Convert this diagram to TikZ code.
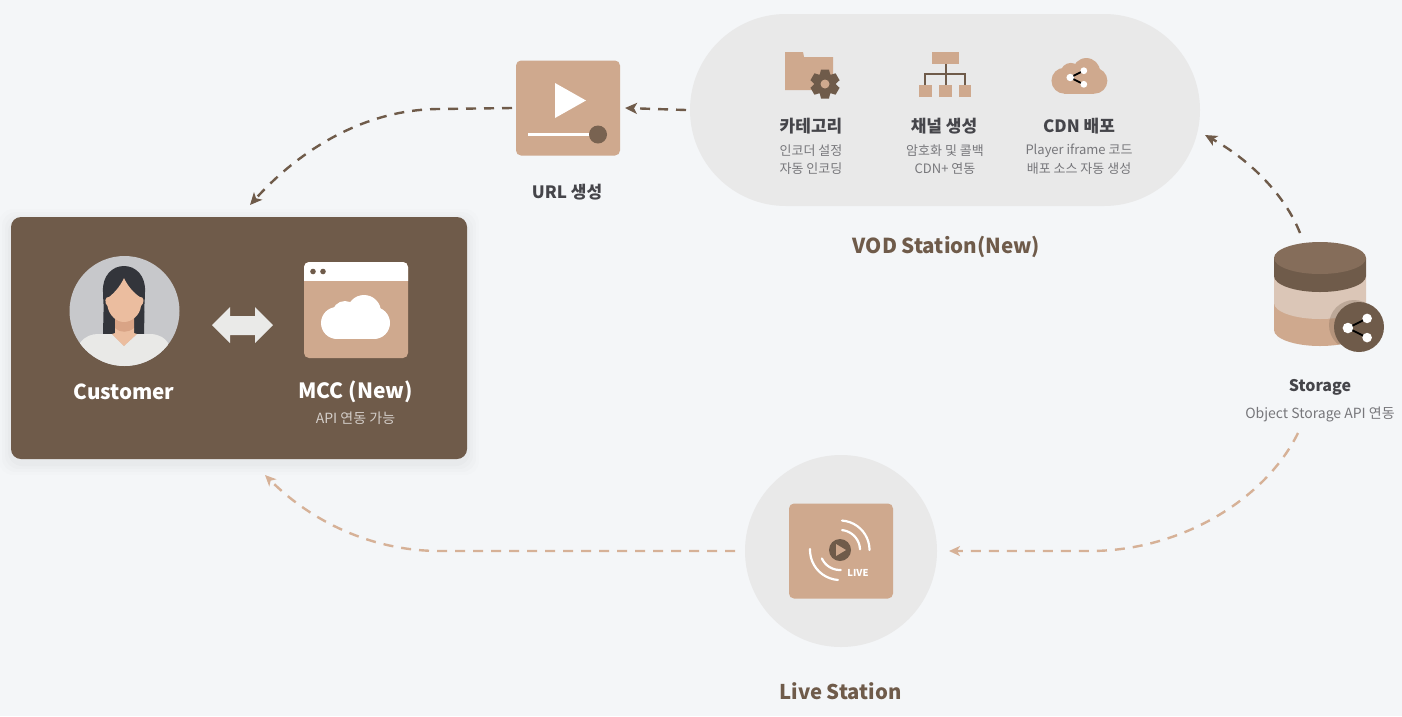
\documentclass[tikz,border=0pt]{standalone}
\usepackage{fontspec}
\setmainfont{Noto Sans CJK KR}
\usetikzlibrary{arrows.meta,calc}
\definecolor{bgc}{HTML}{F4F6F8}
\definecolor{pillc}{HTML}{E9E9E9}
\definecolor{tanc}{HTML}{CFA98E}
\definecolor{brownc}{HTML}{6F5B4A}
\definecolor{linetan}{HTML}{D6B197}
\definecolor{darktxt}{HTML}{45454A}
\definecolor{subtxt}{HTML}{77777B}
\definecolor{hairc}{HTML}{33353B}
\definecolor{skinc}{HTML}{EBBD9F}
\definecolor{skind}{HTML}{D9A486}
\definecolor{shirtc}{HTML}{E9E9E7}
\definecolor{avatarc}{HTML}{C7C8CB}
\newcommand{\fsz}[1]{\fontsize{#1}{#1}\selectfont}
\tikzset{
  x=1pt,y=-1pt,
  tanbox/.style={fill=tanc,rounded corners=5pt,inner sep=0pt,outer sep=0pt},
  brownline/.style={draw=brownc,line width=2.4pt,dash pattern=on 10pt off 8pt,-{Stealth[length=12pt,width=11pt,inset=3pt,sep=0pt]}},
  tanline/.style={draw=linetan,line width=2.4pt,dash pattern=on 10pt off 8pt,-{Stealth[length=11pt,width=10pt,inset=3pt]}},
  headtxt/.style={inner sep=0pt,font=\bfseries\fsz{20.6},text=brownc,anchor=center},
  itemtxt/.style={inner sep=0pt,font=\bfseries\fsz{17},text=darktxt,anchor=center},
  subline/.style={inner sep=0pt,font=\fsz{13},text=subtxt,anchor=center},
  whitetxt/.style={inner sep=0pt,font=\bfseries\fsz{20.6},text=white,anchor=center},
  wavearc/.style={white,line width=2.2pt,line cap=round},
  cloudicon/.pic={
    \fill[pic actions] (-18,12) circle[radius=16];
    \fill[pic actions] (19,12) circle[radius=16];
    \fill[pic actions] (-10,3) circle[radius=13];
    \fill[pic actions] (9,1) circle[radius=17];
    \fill[pic actions] (-18,6) rectangle (19,28);
  },
  shareicon/.pic={
    \draw[pic actions,fill=none,line width=1.8pt] (8,-8) -- (-8,0) -- (8,8);
    \fill[pic actions] (8,-8) circle[radius=4];
    \fill[pic actions] (-8,0) circle[radius=4.4];
    \fill[pic actions] (8,8) circle[radius=4];
  },
}
\begin{document}
\begin{tikzpicture}
\useasboundingbox (0,0) rectangle (1402,716);
\fill[bgc] (0,0) rectangle (1402,716);

% soft shadow of the customer panel
\foreach \g/\o in {12/.008,9/.01,6/.012,3/.016}{
  \fill[black,opacity=\o,rounded corners=14pt] (11-\g,217-\g+4) rectangle (467+\g,459+\g+4);
}

% containers
\node[fill=pillc,rounded corners=96pt,minimum width=510pt,minimum height=192pt,inner sep=0pt,outer sep=0pt] (vod) at (945,110) {};
\node[fill=brownc,rounded corners=10pt,minimum width=456pt,minimum height=242pt,inner sep=0pt,outer sep=0pt] (panel) at (239,338) {};
\node[tanbox,minimum width=104pt,minimum height=95pt] (url) at (568,108) {};
\node[circle,fill=pillc,minimum size=192pt,inner sep=0pt,outer sep=0pt] (livec) at (841,551) {};
\node[tanbox,minimum width=104pt,minimum height=95pt] (livebox) at (841,551) {};
\node[inner sep=0pt,outer sep=0pt,minimum width=92pt,minimum height=104pt] (storage) at (1320,294) {};
\node[circle,fill=avatarc,minimum size=110pt,inner sep=0pt,outer sep=0pt] (avatar) at (124.5,311) {};
\node[tanbox,minimum width=104pt,minimum height=96pt] (window) at (356,310) {};

% url icon
\fill[white] (555,83) -- (586,100.5) -- (555,118) -- cycle;
\draw[white,line width=2.4pt] (528,134.5) -- (592,134.5);
\fill[brownc!90!tanc] (598,134.5) circle[radius=9];

% avatar
\begin{scope}
  \clip (124.5,311) circle[radius=55];
  \fill[hairc] (103,334) -- (103.5,312) .. controls (104,305) and (103,300) .. (103,292)
     .. controls (102,276) and (112,266) .. (124,266) .. controls (136,266) and (146,276) .. (145,292)
     .. controls (145,300) and (144,305) .. (144.5,312) -- (144,334) -- (135,334) -- (113,334) -- cycle;
  \fill[skinc] (115,312) rectangle (134,340);
  \fill[shirtc] (70,372) -- (80,343) .. controls (85,336) and (92,334) .. (98,334) -- (112,334) -- (124,346) -- (137,334) -- (152,334) .. controls (160,335) and (165,338) .. (168,343) -- (180,372) -- cycle;
  \fill[skinc] (115,328) -- (134,328) -- (134,333) -- (137,334) -- (124,346) -- (112,334) -- (115,333) -- cycle;
  \fill[skind] (115,318) -- (134,318) -- (134,328) .. controls (128,333) and (120,333) .. (115,328) -- cycle;
  \fill[skinc] (124,278) .. controls (120,287) and (113,294) .. (109,297) .. controls (105,296) and (104,303) .. (107.5,306)
     .. controls (109,315) and (116,322) .. (124,322) .. controls (132,322) and (140,315) .. (141,306)
     .. controls (145,303) and (144,296) .. (140,297) .. controls (135,294) and (128,287) .. (124,278) -- cycle;
\end{scope}

% double arrow
\fill[shirtc!95!bgc] (212,325) -- (230,307) -- (230,316) -- (255,316) -- (255,307) -- (273,325) -- (255,343) -- (255,335) -- (230,335) -- (230,343) -- cycle;

% window icon
\begin{scope}
  \clip (304,262) rectangle (408,280);
  \fill[white,rounded corners=5pt] (304,262) rectangle (408,290);
\end{scope}
\fill[brownc] (313,271.5) circle[radius=2.8];
\fill[brownc] (323,271.5) circle[radius=2.8];
\path (355,311) pic[fill=white] {cloudicon};

% folder + gear
\fill[tanc] (785,52) -- (803,52) -- (804,57) -- (833,57) -- (833,90) -- (785,90) -- cycle;
\foreach \a in {0,60,...,300}{
  \fill[brownc,rotate around={\a:(825,84)}] (821,69.5) -- (829,69.5) -- (831,78) -- (819,78) -- cycle;
}
\fill[brownc] (825,84) circle[radius=11];
\fill[tanc] (825,84) circle[radius=4.5];

% hierarchy icon
\draw[brownc,line width=2pt] (945.5,60) -- (945.5,88) (925,88) -- (925,73.5) -- (965,73.5) -- (965,88);
\fill[tanc] (932,52) rectangle (959,63.5);
\fill[tanc] (919,85) rectangle (931.5,97);
\fill[tanc] (939,85) rectangle (951.5,97);
\fill[tanc] (959,85) rectangle (970.5,97);

% cloud share icon
\path (1079,71) pic[fill=tanc,scale=.81] {cloudicon};
\path (1077,77.5) pic[fill=white,scale=.85] {shareicon};

% storage cylinder
\fill[tanc] (1274,303) -- (1274,330) arc[start angle=180,end angle=360,x radius=46,y radius=-16] -- (1366,303) -- cycle;
\fill[tanc!55!pillc] (1274,276) -- (1274,303) arc[start angle=180,end angle=360,x radius=46,y radius=-16] -- (1366,276) -- cycle;
\fill[brownc] (1274,258) -- (1274,276) arc[start angle=180,end angle=360,x radius=46,y radius=-16] -- (1366,258) -- cycle;
\fill[brownc!70!tanc!95!black] (1320,258) ellipse[x radius=46,y radius=16];
\begin{scope}
  \clip (1274,276) -- (1274,330) arc[start angle=180,end angle=360,x radius=46,y radius=-16] -- (1366,276) -- cycle;
  \fill[brownc,opacity=.28] (1354,325) circle[radius=25];
\end{scope}
\fill[brownc] (1359,327) circle[radius=25];
\path (1357.5,328) pic[fill=white,scale=1.2] {shareicon};

% live icon
\draw[wavearc] plot[smooth,samples=12,domain=0:86] ({840+29.5*cos(\x)},{550-29.5*sin(\x)});
\draw[wavearc] plot[smooth,samples=12,domain=2:84] ({840+20*cos(\x)},{550-20*sin(\x)});
\draw[wavearc] plot[smooth,samples=12,domain=178:266] ({840+30*cos(\x)},{550-30*sin(\x)});
\draw[wavearc] plot[smooth,samples=12,domain=205:272] ({840+20*cos(\x)},{550-20*sin(\x)});
\fill[brownc] (840,550) circle[radius=11];
\fill[tanc] (836,544) -- (846,550) -- (836,556) -- cycle;
\node[inner sep=0pt,font=\bfseries\fsz{9.5},text=white] (livelabel) at (858,573) {LIVE};

% texts
\node[whitetxt] (tcust) at (124,392) {Customer};
\node[whitetxt,font=\bfseries\fsz{21}] (tmcc) at (355.5,392) {MCC (New)};
\node[inner sep=0pt,font=\fsz{14},text=white!70!brownc] (tmccsub) at (355.5,418) {API 연동 가능};
\node[inner sep=0pt,font=\bfseries\fsz{17},text=darktxt] (turl) at (567,192) {URL 생성};
\node[itemtxt] (t1) at (811,126) {카테고리};
\node[subline] (t1a) at (811,151) {인코더 설정};
\node[subline] (t1b) at (811,169) {자동 인코딩};
\node[itemtxt] (t2) at (944,126) {채널 생성};
\node[subline] (t2a) at (945,151) {암호화 및 콜백};
\node[subline] (t2b) at (945,169) {CDN+ 연동};
\node[itemtxt] (t3) at (1079,126) {CDN 배포};
\node[subline] (t3a) at (1079,151) {Player iframe 코드};
\node[subline] (t3b) at (1079,169) {배포 소스 자동 생성};
\node[headtxt] (tvod) at (946.5,247) {VOD Station(New)};
\node[inner sep=0pt,font=\bfseries\fsz{16},text=darktxt] (tstor) at (1320,387) {Storage};
\node[inner sep=0pt,font=\fsz{14},text=subtxt] (tstorsub) at (1320,414) {Object Storage API 연동};
\node[headtxt,font=\bfseries\fsz{20.3}] (tlive) at (840.5,691.5) {Live Station};

% connectors
\draw[brownline] ([xshift=-4pt]vod.west) -- ([xshift=5pt]url.east);
\draw[brownline] ([xshift=-4pt]url.west) -- (440,109) .. controls (360,109) and (295,155) .. ([shift={(11,-12)}]panel.north);
\draw[brownline] ([shift={(-20,-9)}]storage.north) .. controls (1285,195) and (1250,160) .. ([shift={(5,25)}]vod.east);
\draw[tanline] ([shift={(-22,19)}]tstorsub.center) .. controls (1265,500) and (1180,551) .. (1090,551) -- ([xshift=12pt]livec.east);
\draw[tanline] ([xshift=-10pt]livec.west) -- (440,551) .. controls (370,551) and (310,520) .. ([shift={(26,16)}]panel.south);
\end{tikzpicture}
\end{document}
